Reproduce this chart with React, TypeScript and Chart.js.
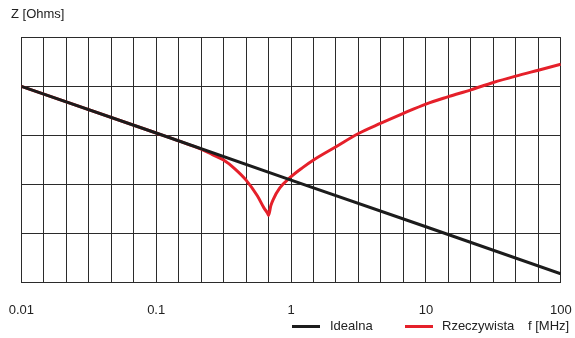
import React, { useEffect, useRef } from "react";
import { Chart, registerables } from "chart.js";

Chart.register(...registerables);

// Decade labels shown under the x axis
const decadeLabels = ["0.01", "0.1", "1", "10", "100"];
// Vertical grid positions (six per decade, MHz)
const gridFrequencies = [
  0.01, 0.01468, 0.02154, 0.03162, 0.04642, 0.06813,
  0.1, 0.1468, 0.2154, 0.3162, 0.4642, 0.6813,
  1, 1.468, 2.154, 3.162, 4.642, 6.813,
  10, 14.68, 21.54, 31.62, 46.42, 68.13, 100,
];

// Series: ideal capacitor impedance (relative grid units)
const idealFreq = [0.01, 0.1, 1, 10, 100];
const idealZ = [4.0, 3.05, 2.09, 1.14, 0.18];

// Series: real capacitor impedance
const realFreq = [
  0.01, 0.1, 0.1468, 0.2154, 0.261, 0.3162, 0.3831, 0.4642, 0.5623,
  0.631, 0.668, 0.6813, 0.708, 0.7356, 0.8254, 1, 1.2115, 1.468,
  2.154, 3.162, 4.642, 6.813, 10, 14.68, 21.54, 31.62, 46.42, 68.13, 100,
];
const realZ = [
  4.0, 3.05, 2.89, 2.72, 2.61, 2.5, 2.32, 2.09, 1.77,
  1.52, 1.42, 1.37, 1.57, 1.69, 1.93, 2.16, 2.34, 2.5,
  2.77, 3.04, 3.25, 3.45, 3.64, 3.79, 3.93, 4.08, 4.21, 4.33, 4.45,
];

const seriesNames = ["Idealna", "Rzeczywista"];
const seriesColors = ["#1c1c1c", "#e5202a"];
const yAxisTitle = "Z [Ohms]";
const xAxisTitle = "f [MHz]";

const FONT = "'Liberation Sans', Arial, Helvetica, sans-serif";
const TEXT_COLOR = "#222";

export default function App() {
  const canvasRef = useRef<HTMLCanvasElement | null>(null);

  useEffect(() => {
    const canvas = canvasRef.current;
    if (!canvas) return;
    const gridColor = "#2b2b2b";
    const chart = new Chart(canvas, {
      type: "line",
      data: {
        datasets: [
          {
            label: seriesNames[0],
            data: idealFreq.map((f, i) => ({ x: f, y: idealZ[i] })),
            borderColor: seriesColors[0],
            backgroundColor: seriesColors[0],
            borderWidth: 3,
            pointRadius: 0,
            tension: 0,
          },
          {
            label: seriesNames[1],
            data: realFreq.map((f, i) => ({ x: f, y: realZ[i] })),
            borderColor: seriesColors[1],
            backgroundColor: seriesColors[1],
            borderWidth: 3,
            pointRadius: 0,
            cubicInterpolationMode: "monotone",
          },
        ],
      },
      options: {
        responsive: false,
        animation: false,
        events: [],
        layout: { padding: { left: 21.3, right: 14.2, top: 37.3, bottom: 0 } },
        plugins: {
          legend: { display: false },
          tooltip: { enabled: false },
          title: { display: false },
        },
        scales: {
          x: {
            type: "logarithmic",
            position: "bottom",
            min: 0.01,
            max: 100,
            afterBuildTicks: (s: any) => {
              s.ticks = gridFrequencies.map((v) => ({ value: v }));
            },
            afterFit: (s: any) => {
              s.paddingLeft = 0;
              s.paddingRight = 0;
              s.height = 55.3;
            },
            grid: { color: gridColor, lineWidth: 1, drawTicks: false },
            border: { display: false },
            ticks: {
              autoSkip: false,
              maxRotation: 0,
              minRotation: 0,
              padding: 20,
              color: TEXT_COLOR,
              font: { family: FONT, size: 13 },
              callback: (_v: any, i: number) =>
                i % 6 === 0 ? decadeLabels[i / 6] : "",
            },
          },
          y: {
            type: "linear",
            min: 0,
            max: 5,
            afterFit: (s: any) => {
              s.width = 0;
              s.paddingTop = 0;
              s.paddingBottom = 0;
            },
            ticks: { display: false, stepSize: 1 },
            grid: { color: gridColor, lineWidth: 1, drawTicks: false },
            border: { display: false },
          },
        },
      },
    } as any);
    return () => chart.destroy();
  }, []);

  const textStyle: React.CSSProperties = {
    position: "absolute",
    fontFamily: FONT,
    fontSize: 13,
    lineHeight: "15px",
    color: TEXT_COLOR,
    whiteSpace: "nowrap",
  };

  return (
    <div
      style={{
        position: "absolute",
        left: 0,
        top: 0,
        width: 575,
        height: 338,
        background: "#fff",
      }}
    >
      <canvas ref={canvasRef} width={575} height={338} style={{ display: "block" }} />
      <span style={{ ...textStyle, left: 11, top: 6 }}>{yAxisTitle}</span>
      <div style={{ position: "absolute", left: 292, top: 325, width: 28, height: 3, background: seriesColors[0] }} />
      <span style={{ ...textStyle, left: 330, top: 318 }}>{seriesNames[0]}</span>
      <div style={{ position: "absolute", left: 405, top: 325, width: 28, height: 3, background: seriesColors[1] }} />
      <span style={{ ...textStyle, left: 442, top: 318 }}>{seriesNames[1]}</span>
      <span style={{ ...textStyle, left: 528, top: 318 }}>{xAxisTitle}</span>
    </div>
  );
}
